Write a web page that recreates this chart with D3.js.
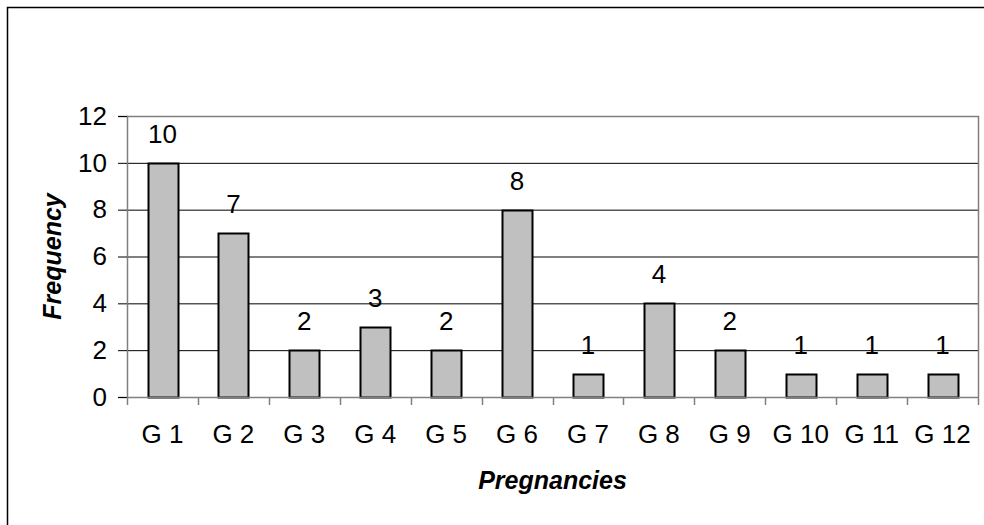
<!DOCTYPE html>
<html>
<head>
<meta charset="utf-8">
<script src="https://cdn.jsdelivr.net/npm/d3@7"></script>
<style>
  body { margin: 0; background: #fff; }
  svg { display: block; font-family: "Liberation Sans", Arial, sans-serif; }
</style>
</head>
<body>
<svg id="chart" width="984" height="525"></svg>
<script>
// chart values
const categories = ["G 1", "G 2", "G 3", "G 4", "G 5", "G 6", "G 7", "G 8", "G 9", "G 10", "G 11", "G 12"];
const frequency = [10, 7, 2, 3, 2, 8, 1, 4, 2, 1, 1, 1];
const yTicks = [0, 2, 4, 6, 8, 10, 12];

const svg = d3.select("#chart");

// plot area
const plot = { left: 127, right: 978, top: 116, bottom: 397 };

// outer chart frame (right/bottom run off the picture)
svg.append("rect")
  .attr("x", 7.5).attr("y", 7.5)
  .attr("width", 1000).attr("height", 1000)
  .attr("fill", "none").attr("stroke", "#000").attr("stroke-width", 1.5);

var x = d3.scaleBand()
  .domain(categories)
  .range([plot.left, plot.right])
  .paddingInner(0.58)
  .paddingOuter(0.29);

var y = d3.scaleLinear().domain([0, 12]).range([plot.bottom, plot.top]);

// gridlines
svg.append("g")
  .selectAll("line")
  .data(yTicks.filter((d) => d > 0 && d < 12))
  .enter()
  .append("line")
  .attr("x1", plot.left).attr("x2", plot.right)
  .attr("y1", (d) => y(d) + 0.5).attr("y2", (d) => y(d) + 0.5)
  .attr("stroke", "#000").attr("stroke-width", 1);

// plot border top/right (gray)
svg.append("path")
  .attr("d", "M" + plot.left + "," + (plot.top + 0.5) + "H" + (plot.right + 0.5) + "V" + plot.bottom)
  .attr("fill", "none").attr("stroke", "#808080").attr("stroke-width", 1.5);

// bars
svg.append("g")
  .selectAll("rect")
  .data(frequency)
  .enter()
  .append("rect")
  .attr("x", (d, i) => Math.round(x(categories[i])) + 0.5)
  .attr("y", (d) => Math.round(y(d)) + 0.5)
  .attr("width", Math.round(x.bandwidth()))
  .attr("height", (d) => Math.round(y(0)) - Math.round(y(d)))
  .attr("fill", "#c0c0c0")
  .attr("stroke", "#000")
  .attr("stroke-width", 2);

// data labels
svg.append("g")
  .selectAll("text")
  .data(frequency)
  .enter()
  .append("text")
  .attr("x", (d, i) => x(categories[i]) + x.bandwidth() / 2)
  .attr("y", (d) => y(d) - 20)
  .attr("text-anchor", "middle")
  .attr("font-size", 26)
  .text((d) => d);

// y axis
var yAxis = svg.append("g")
  .attr("transform", "translate(" + plot.left + ",0)")
  .call(d3.axisLeft(y).tickValues(yTicks).tickSize(9).tickPadding(11));
yAxis.select(".domain").attr("stroke", "#808080").attr("stroke-width", 1.5);
yAxis.selectAll(".tick line").attr("stroke", "#000");
yAxis.selectAll("text").attr("font-size", 26).attr("font-family", null).attr("fill", "#000");

// x axis with ticks at category boundaries
var xAxis = svg.append("g")
  .attr("transform", "translate(0," + plot.bottom + ")");
xAxis.append("line")
  .attr("x1", plot.left).attr("x2", plot.right + 1)
  .attr("y1", 0.5).attr("y2", 0.5)
  .attr("stroke", "#808080").attr("stroke-width", 1.5);
var step = x.step();
xAxis.selectAll(".xtick")
  .data(d3.range(categories.length + 1))
  .enter()
  .append("line")
  .attr("class", "xtick")
  .attr("x1", (i) => Math.round(plot.left + i * step) + 0.5)
  .attr("x2", (i) => Math.round(plot.left + i * step) + 0.5)
  .attr("y1", 0).attr("y2", 8)
  .attr("stroke", "#808080").attr("stroke-width", 1.5);
xAxis.selectAll(".xlabel")
  .data(categories)
  .enter()
  .append("text")
  .attr("class", "xlabel")
  .attr("x", (d) => x(d) + x.bandwidth() / 2)
  .attr("y", 46)
  .attr("text-anchor", "middle")
  .attr("font-size", 26)
  .text((d) => d);

// axis titles
svg.append("text")
  .attr("x", (plot.left + plot.right) / 2)
  .attr("y", 489)
  .attr("text-anchor", "middle")
  .attr("font-size", 25)
  .attr("font-weight", "bold")
  .attr("font-style", "italic")
  .text("Pregnancies");

svg.append("text")
  .attr("transform", "translate(61," + (plot.top + plot.bottom) / 2 + ") rotate(-90)")
  .attr("text-anchor", "middle")
  .attr("font-size", 25)
  .attr("font-weight", "bold")
  .attr("font-style", "italic")
  .text("Frequency");
</script>
</body>
</html>
